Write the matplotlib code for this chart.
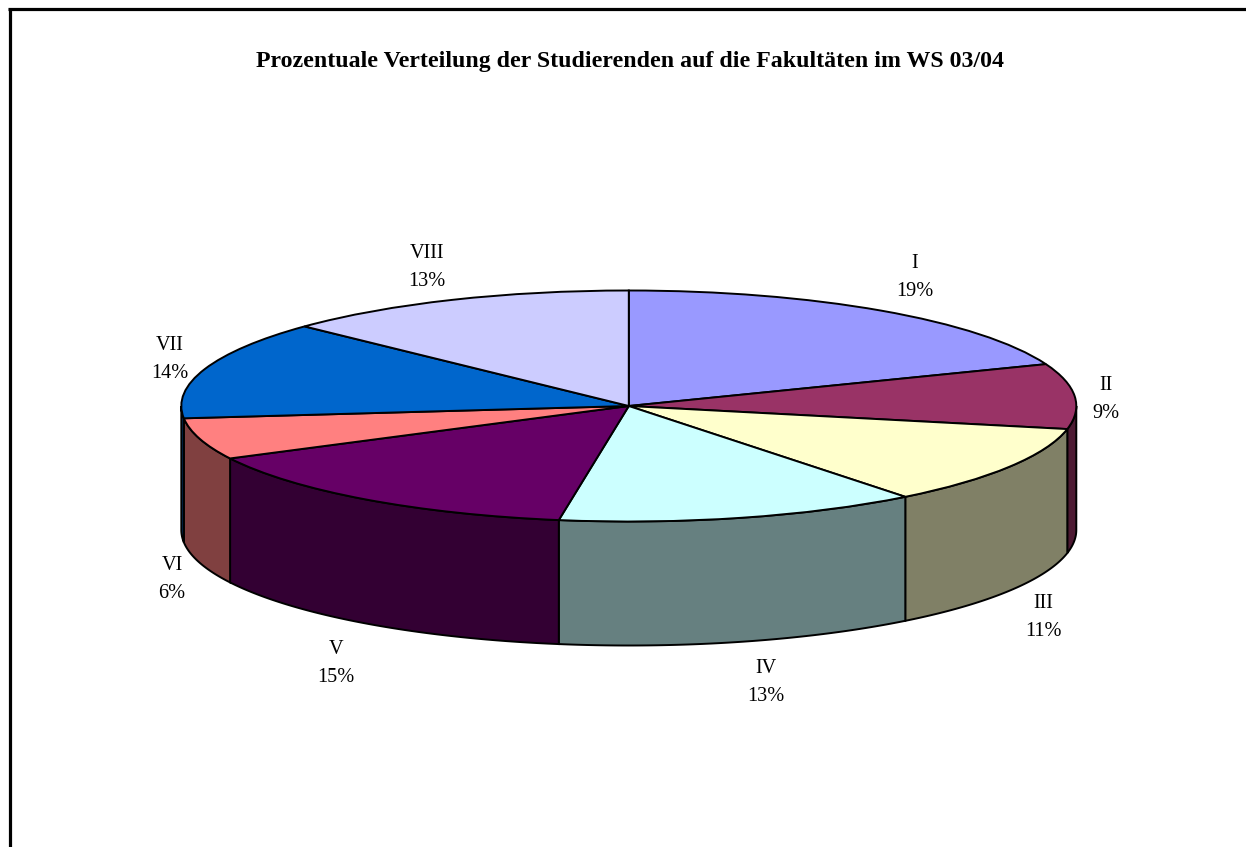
import numpy as np
import matplotlib
matplotlib.use("Agg")
import matplotlib.pyplot as plt
from matplotlib.lines import Line2D

plt.rcParams["font.family"] = ["Liberation Serif", "DejaVu Serif"]

W, H = 1246, 847

faculties = ["I", "II", "III", "IV", "V", "VI", "VII", "VIII"]
shares = [19.1, 9.1, 11.2, 13.1, 15.0, 5.8, 13.8, 12.9]
share_labels = ["19%", "9%", "11%", "13%", "15%", "6%", "14%", "13%"]
top_colors = ["#9999FF", "#993366", "#FFFFCC", "#CCFFFF",
              "#660066", "#FF8080", "#0066CC", "#CCCCFF"]
side_colors = ["#4D4D80", "#4D1A33", "#808066", "#668080",
               "#330033", "#804040", "#003366", "#666680"]
title = "Prozentuale Verteilung der Studierenden auf die Fakultäten im WS 03/04"

# pie geometry in pixels
cx, cy = 628.8, 406.0
rx, ry = 447.5, 115.5
depth = 124.0 / ry

# label anchors in pixels (centre of the two-line label)
label_px = [(915, 277.5), (1106, 399.5), (1043, 617.5), (766, 682.5),
            (336, 663.5), (172, 579.5), (170, 359.5), (427, 267.5)]


def to_data(px, py):
    return (px - cx) / rx, (cy - py) / ry


fig = plt.figure(figsize=(W / 100, H / 100), dpi=100)
ax = fig.add_axes([0, 0, 1, 1])

ax.pie(shares, colors=top_colors, startangle=90, counterclock=False, radius=1,
       wedgeprops={"edgecolor": "black", "linewidth": 1.4, "zorder": 3})
ax.set_aspect("auto")
ax.set_xlim(-cx / rx, (W - cx) / rx)
ax.set_ylim((cy - H) / ry, cy / ry)
ax.axis("off")

# side walls, only the front half of the cylinder shows
edges = np.cumsum([0] + shares) / sum(shares) * 360
for start, end, col in zip(edges[:-1], edges[1:], side_colors):
    a = max(start, 90)
    b = min(end, 270)
    if b <= a:
        continue
    t = np.radians(np.linspace(a, b, 80))
    x = np.sin(t)
    y = np.cos(t)
    ax.fill(np.r_[x, x[::-1]], np.r_[y, y[::-1] - depth], facecolor=col,
            edgecolor="black", linewidth=1.4, zorder=2)

for name, pct, (px, py) in zip(faculties, share_labels, label_px):
    lx, ly = to_data(px, py)
    ax.text(lx, ly, name + "\n" + pct, ha="center", va="center",
            fontsize=14.6, linespacing=1.6, color="black")

tx, ty = to_data(629.5, 61)
ax.text(tx, ty, title, ha="center", va="center", fontsize=17.2,
        fontweight="bold", color="black")

# chart border, cut off at the right and bottom of the picture
fig.add_artist(Line2D([9.5 / W, 9.5 / W], [0, 1 - 8 / H], color="black",
                      linewidth=2.3, solid_capstyle="butt"))
fig.add_artist(Line2D([8 / W, 1], [1 - 9.5 / H, 1 - 9.5 / H], color="black",
                      linewidth=2.3, solid_capstyle="butt"))

fig.savefig("out.png", dpi=100, facecolor="white")
